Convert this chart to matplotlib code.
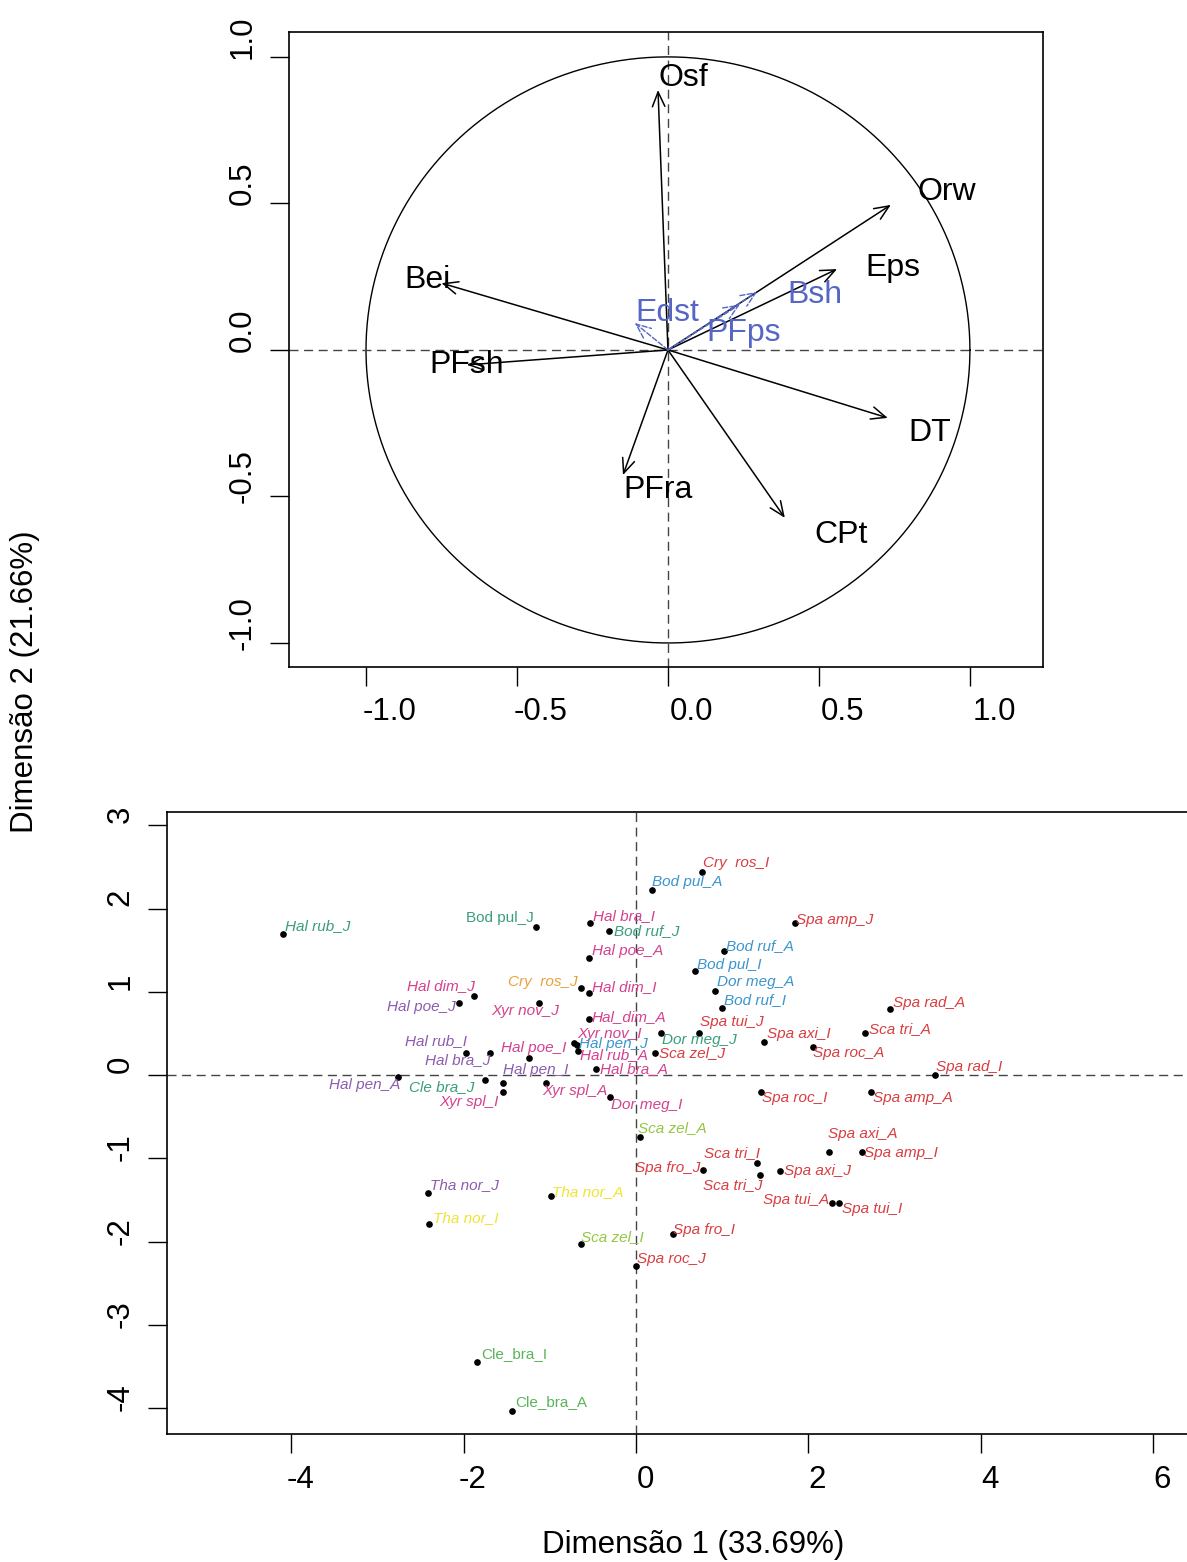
import matplotlib
matplotlib.use('Agg')
import matplotlib.pyplot as plt
import matplotlib.transforms as mtransforms
import numpy as np

plt.rcParams['font.family'] = ['Liberation Sans', 'DejaVu Sans']
plt.rcParams['axes.unicode_minus'] = False

# --- variables (correlation circle) ---
var_names = ['Osf', 'Orw', 'Eps', 'Bei', 'PFsh', 'DT', 'CPt', 'PFra']
var_d1 = [-0.033, 0.738, 0.560, -0.750, -0.666, 0.728, 0.387, -0.149]
var_d2 = [0.887, 0.495, 0.276, 0.228, -0.051, -0.232, -0.573, -0.427]

sup_names = ['Edst', 'PFps', 'Bsh']
sup_d1 = [-0.110, 0.238, 0.295]
sup_d2 = [0.092, 0.155, 0.198]

# --- individuals ---
ind_names = ['Hal rub_J', 'Bod pul_J', 'Hal bra_I', 'Bod ruf_J', 'Hal poe_A', 'Hal dim_J',
             'Hal poe_J', 'Cry  ros_J', 'Hal dim_I', 'Xyr nov_J', 'Hal_dim_A', 'Xyr nov_I',
             'Hal pen_J', 'Hal rub_A', 'Dor meg_J', 'Sca zel_J', 'Hal bra_A', 'Hal rub_I',
             'Hal bra_J', 'Hal poe_I', 'Hal pen_A', 'Cle bra_J', 'Xyr spl_I', 'Hal pen_I',
             'Xyr spl_A', 'Dor meg_I', 'Sca zel_A', 'Bod pul_A', 'Cry  ros_I', 'Spa amp_J',
             'Bod ruf_A', 'Bod pul_I', 'Dor meg_A', 'Bod ruf_I', 'Spa tui_J', 'Spa axi_I',
             'Spa roc_A', 'Sca tri_A', 'Spa rad_A', 'Spa rad_I', 'Spa roc_I', 'Spa amp_A',
             'Spa axi_A', 'Spa amp_I', 'Sca tri_I', 'Spa fro_J', 'Sca tri_J', 'Spa axi_J',
             'Spa tui_A', 'Spa tui_I', 'Tha nor_J', 'Tha nor_A', 'Tha nor_I', 'Sca zel_I',
             'Spa fro_I', 'Spa roc_J', 'Cle_bra_I', 'Cle_bra_A']
ind_d1 = [-4.10, -1.16, -0.53, -0.31, -0.55, -1.88, -2.05, -0.64, -0.55, -1.13, -0.55, -0.72,
          -0.69, -0.67, 0.29, 0.22, -0.46, -1.97, -1.69, -1.24, -2.76, -1.75, -1.54, -1.54,
          -1.04, -0.30, 0.05, 0.19, 0.77, 1.85, 1.02, 0.69, 0.92, 1.00, 0.73, 1.49,
          2.05, 2.66, 2.95, 3.47, 1.45, 2.73, 2.24, 2.62, 1.40, 0.78, 1.44, 1.67,
          2.27, 2.35, -2.41, -0.99, -2.40, -0.64, 0.43, 0.00, -1.84, -1.44]
ind_d2 = [1.69, 1.78, 1.83, 1.73, 1.41, 0.95, 0.87, 1.05, 0.99, 0.87, 0.67, 0.39,
          0.36, 0.29, 0.50, 0.27, 0.07, 0.27, 0.26, 0.21, -0.02, -0.06, -0.20, -0.10,
          -0.09, -0.26, -0.74, 2.22, 2.44, 1.83, 1.49, 1.25, 1.01, 0.81, 0.51, 0.40,
          0.34, 0.50, 0.79, 0.00, -0.20, -0.20, -0.92, -0.92, -1.05, -1.14, -1.20, -1.15,
          -1.53, -1.53, -1.41, -1.45, -1.79, -2.03, -1.91, -2.29, -3.44, -4.03]
ind_group = ['teal', 'teal', 'mag', 'teal', 'mag', 'mag', 'pur', 'ora', 'mag', 'mag', 'mag', 'mag',
             'blue', 'mag', 'teal', 'red', 'mag', 'pur', 'pur', 'mag', 'pur', 'teal', 'mag', 'pur',
             'mag', 'mag', 'lgr', 'blue', 'red', 'red', 'blue', 'blue', 'blue', 'blue', 'red', 'red',
             'red', 'red', 'red', 'red', 'red', 'red', 'red', 'red', 'red', 'red', 'red', 'red',
             'red', 'red', 'pur', 'yel', 'yel', 'lgr', 'red', 'red', 'grn', 'grn']

# styles / layout
group_col = {'teal': '#3A9E7A', 'grn': '#5BB35B', 'mag': '#D4418E', 'pur': '#8C5CB0',
             'blue': '#3A95CF', 'ora': '#E9A23B', 'red': '#D93D40', 'yel': '#EEE533',
             'lgr': '#92C83E'}
upright = {'Bod pul_J', 'Cle_bra_I', 'Cle_bra_A'}
# label offsets from the dot, in pixels (dx right, dy down), horizontal alignment
lab_off = [(2, -8, 'left'), (-2, -9, 'right'), (3, -7, 'left'), (5, 0, 'left'), (3, -7, 'left'),
           (1, -10, 'right'), (-4, 4, 'right'), (-3, -6, 'right'), (3, -6, 'left'), (21, 8, 'right'),
           (3, -2, 'left'), (3, -9, 'left'), (2, -1, 'left'), (2, 4, 'left'), (1, 7, 'left'),
           (4, 0, 'left'), (4, 0, 'left'), (1, -12, 'right'), (0, 7, 'right'), (5, -10, 'center'),
           (2, 8, 'right'), (-11, 7, 'right'), (-5, 10, 'right'), (0, -13, 'left'), (-4, 8, 'left'),
           (1, 8, 'left'), (-2, -9, 'left'), (0, -8, 'left'), (1, -9, 'left'), (1, -3, 'left'),
           (2, -5, 'left'), (2, -6, 'left'), (2, -9, 'left'), (2, -8, 'left'), (1, -11, 'left'),
           (3, -8, 'left'), (0, 6, 'left'), (4, -4, 'left'), (3, -6, 'left'), (1, -8, 'left'),
           (1, 6, 'left'), (2, 6, 'left'), (-1, -18, 'left'), (2, 1, 'left'), (3, -10, 'right'),
           (-3, -2, 'right'), (2, 10, 'right'), (4, 0, 'left'), (-3, -3, 'right'), (3, 6, 'left'),
           (2, -7, 'left'), (1, -4, 'left'), (4, -6, 'left'), (0, -7, 'left'), (0, -4, 'left'),
           (1, -7, 'left'), (4, -8, 'left'), (3, -9, 'left')]
var_off = [(25, -12), (56, -13), (56, -1), (-14, -3), (0, 0), (42, 15), (56, 17), (35, 15)]
sup_off = [(33, -10), (4, 28), (58, 3)]

W, H = 1187, 1562
fig = plt.figure(figsize=(W / 100, H / 100), dpi=100)

dash = (0, (6.5, 4))

# ---------------- top: correlation circle ----------------
ax1 = fig.add_axes([289 / W, 1 - 667 / H, (1043 - 289) / W, (667 - 32) / H])
ax1.set_xlim(-1.255, 1.242)
ax1.set_ylim(-1.082, 1.085)
t = np.linspace(0, 2 * np.pi, 400)
ax1.plot(np.cos(t), np.sin(t), color='black', lw=1.0)
ax1.axhline(0, color='#444444', lw=1.0, linestyle=dash)
ax1.axvline(0, color='#444444', lw=1.0, linestyle=dash)

for n, x, y, (dx, dy) in zip(var_names, var_d1, var_d2, var_off):
    ax1.annotate('', xy=(x, y), xytext=(0, 0),
                 arrowprops=dict(arrowstyle='->,head_length=0.7,head_width=0.3',
                                 mutation_scale=15, lw=1.1, color='black',
                                 shrinkA=0, shrinkB=0))
    ax1.annotate(n, (x, y), xytext=(dx, -dy), textcoords='offset pixels',
                 ha='center', va='center', fontsize=23, color='black')

for n, x, y, (dx, dy) in zip(sup_names, sup_d1, sup_d2, sup_off):
    ax1.annotate('', xy=(x, y), xytext=(0, 0),
                 arrowprops=dict(arrowstyle='->,head_length=0.7,head_width=0.3',
                                 mutation_scale=15, lw=1.0, color='#5566C4',
                                 linestyle='--', shrinkA=0, shrinkB=0))
    ax1.annotate(n, (x, y), xytext=(dx, -dy), textcoords='offset pixels',
                 ha='center', va='center', fontsize=23, color='#5566C4')

ax1.set_xticks([-1.0, -0.5, 0.0, 0.5, 1.0])
ax1.set_xticklabels(['-1.0', '-0.5', '0.0', '0.5', '1.0'])
ax1.set_yticks([-1.0, -0.5, 0.0, 0.5, 1.0])
ax1.set_yticklabels(['-1.0', '-0.5', '0.0', '0.5', '1.0'])
ax1.tick_params(axis='both', length=13.5, width=1.0, labelsize=22.5, direction='out')
ax1.tick_params(axis='x', pad=8)
ax1.tick_params(axis='y', pad=9)
plt.setp(ax1.get_yticklabels(), rotation=90, va='center')
offx = mtransforms.ScaledTranslation(0.24, 0, fig.dpi_scale_trans)
offy = mtransforms.ScaledTranslation(0, 0.20, fig.dpi_scale_trans)
for lbl in ax1.get_xticklabels():
    lbl.set_transform(lbl.get_transform() + offx)
for lbl in ax1.get_yticklabels():
    lbl.set_transform(lbl.get_transform() + offy)
for s in ax1.spines.values():
    s.set_linewidth(1.2)

# ---------------- bottom: individuals ----------------
ax2 = fig.add_axes([167 / W, 1 - 1434 / H, (1230 - 167) / W, (1434 - 812) / H])
ax2.set_xlim(-5.44, 6.89)
ax2.set_ylim(-4.31, 3.16)
ax2.axhline(0, color='#444444', lw=1.0, linestyle=dash)
ax2.axvline(0, color='#444444', lw=1.0, linestyle=dash)
ax2.plot(ind_d1, ind_d2, 'o', color='black', ms=3.8, linestyle='none')

for n, x, y, g, (dx, dy, ha) in zip(ind_names, ind_d1, ind_d2, ind_group, lab_off):
    ax2.annotate(n, (x, y), xytext=(dx, -dy), textcoords='offset pixels',
                 ha=ha, va='center', fontsize=11, color=group_col[g],
                 style='normal' if n in upright else 'italic')

ax2.set_xticks([-4, -2, 0, 2, 4, 6])
ax2.set_xticklabels(['-4', '-2', '0', '2', '4', '6'])
ax2.set_yticks([-4, -3, -2, -1, 0, 1, 2, 3])
ax2.set_yticklabels(['-4', '-3', '-2', '-1', '0', '1', '2', '3'])
ax2.tick_params(axis='both', length=13.5, width=1.0, labelsize=22.5, direction='out')
ax2.tick_params(axis='x', pad=9)
ax2.tick_params(axis='y', pad=9)
plt.setp(ax2.get_yticklabels(), rotation=90, va='center')
offx2 = mtransforms.ScaledTranslation(0.09, 0, fig.dpi_scale_trans)
offy2 = mtransforms.ScaledTranslation(0, 0.11, fig.dpi_scale_trans)
for lbl in ax2.get_xticklabels():
    lbl.set_transform(lbl.get_transform() + offx2)
for lbl in ax2.get_yticklabels():
    lbl.set_transform(lbl.get_transform() + offy2)
for s in ax2.spines.values():
    s.set_linewidth(1.2)

fig.text(693 / W, 1 - 1545 / H, 'Dimensão 1 (33.69%)', ha='center', va='center', fontsize=22.5)
fig.text(25 / W, 1 - 682 / H, 'Dimensão 2 (21.66%)', ha='center', va='center',
         rotation=90, fontsize=22.5)

fig.savefig('out.png', dpi=100)
